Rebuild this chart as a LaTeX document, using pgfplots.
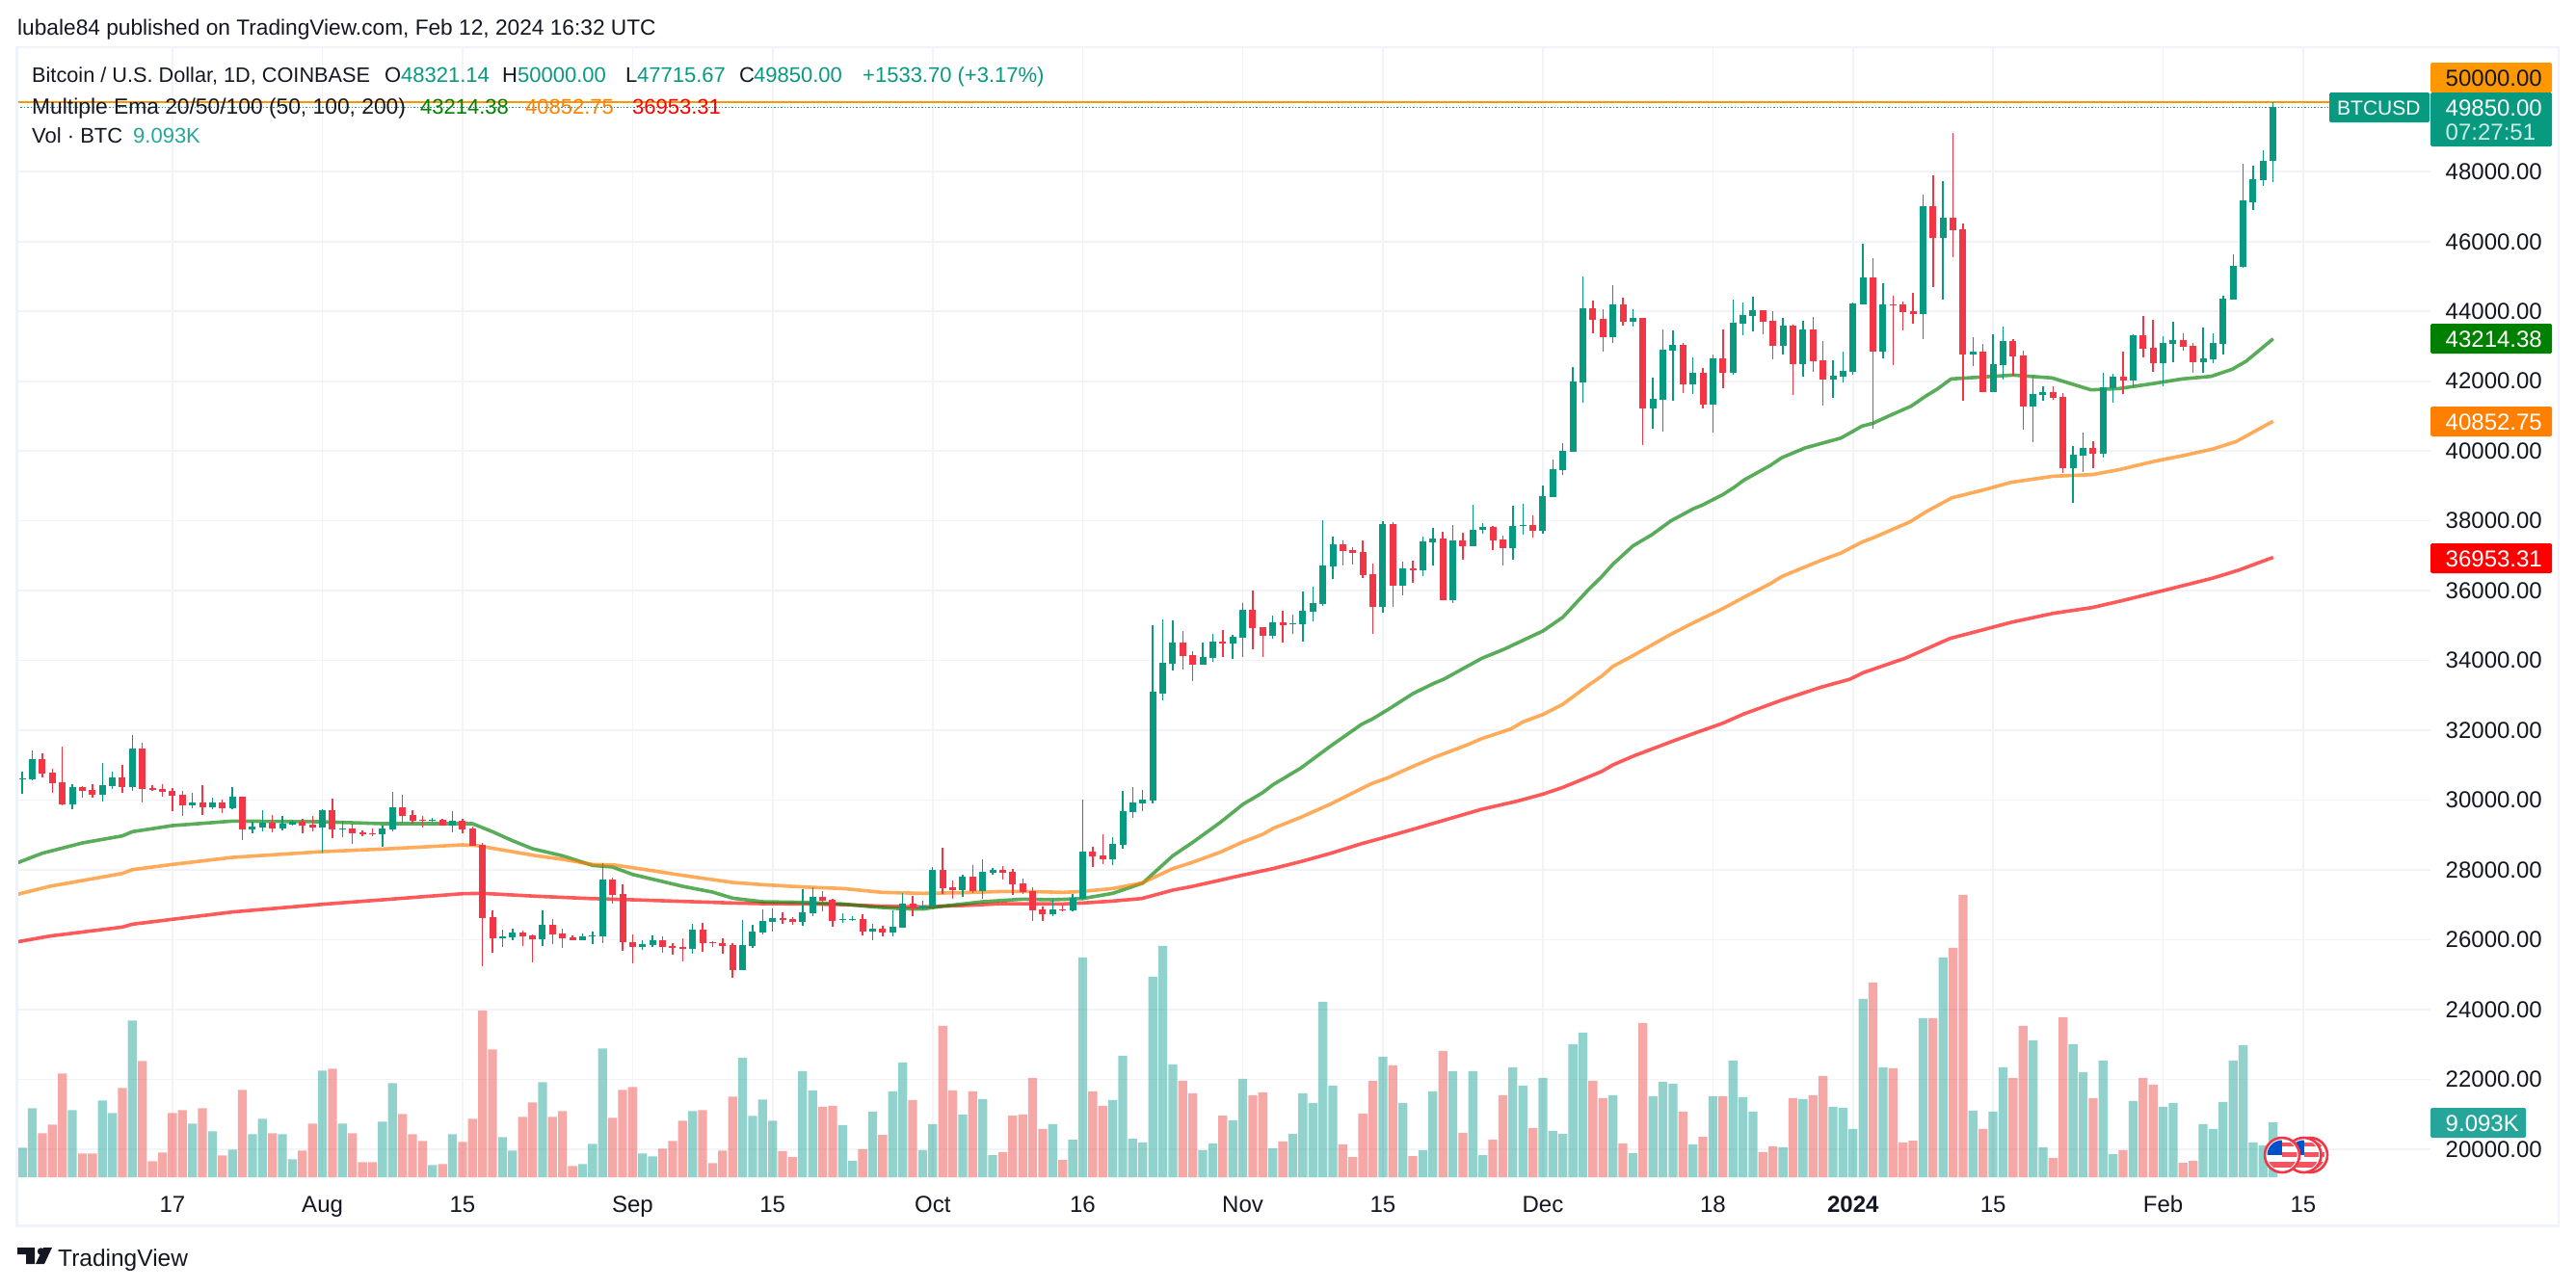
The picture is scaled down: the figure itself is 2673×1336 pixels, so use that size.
\documentclass[border=0pt]{standalone}
\usepackage{fontspec}
\setmainfont{Liberation Sans}
\usepackage{pgfplots}
\usepackage{pgfplotstable}
\pgfplotsset{compat=1.18}
\definecolor{ink}{HTML}{131722}
\definecolor{upc}{HTML}{089981}
\definecolor{downc}{HTML}{F23645}
\definecolor{volup}{HTML}{26A69A}
\definecolor{voldown}{HTML}{EF5350}
\definecolor{gridc}{HTML}{F2F3F6}
\definecolor{framec}{HTML}{F0F3FA}
\definecolor{emag}{HTML}{008000}
\definecolor{emao}{HTML}{FF7F00}
\definecolor{emar}{HTML}{FF0000}
\definecolor{hl}{HTML}{FF9800}
\pgfplotstableread{
i o h l c v
0 30602 30813 30179 30620 4.89
1 30593 31421 30565 31172 11.44
5 29875 30455 29737 30372 11.12
8 30151 31062 29958 30427 12.71
9 30399 30813 30317 30648 10.64
11 30372 31862 30261 31476 25.96
17 29847 30206 29765 29930 8.88
19 29792 30068 29737 29930 7.61
21 29765 30372 29737 30096 4.58
23 29157 29378 29047 29240 7.13
24 29213 29709 29102 29351 9.68
26 29185 29544 29130 29323 7.13
27 29295 29433 29268 29378 2.98
30 29213 29737 28495 29709 17.66
32 29157 29406 28937 29185 8.88
36 29019 29268 28661 29185 9.20
37 29157 30234 29102 29792 15.59
41 29406 29489 29378 29433 2.02
43 29268 29682 29075 29406 7.13
48 26039 26287 25790 26094 6.65
49 26066 26315 25983 26204 4.42
52 26011 26839 25818 26425 15.75
56 25983 26177 25983 26094 2.18
57 26094 26232 25873 26112 5.53
58 26094 28191 25901 27722 21.33
62 25790 25983 25707 25873 3.94
63 25845 26121 25790 25983 3.46
67 25735 26453 25597 26287 10.96
72 25128 26563 25128 25845 19.74
73 25818 26425 25763 26232 10.16
74 26204 26867 26149 26535 12.87
75 26508 26894 26232 26618 9.36
78 26508 27446 26397 26784 17.56
79 26756 27501 26673 27225 14.36
82 26563 26756 26480 26591 8.62
83 26572 26673 26535 26600 2.71
85 26232 26453 25983 26315 10.85
87 26204 26839 26094 26370 14.20
88 26342 27336 26342 27032 18.99
90 26894 27115 26867 26977 4.47
91 26949 28081 26922 27998 8.78
94 27419 27860 27225 27805 10.37
96 27391 28302 27170 27943 12.93
97 27915 28053 27860 27998 3.67
103 26729 27143 26673 26867 8.78
105 26839 27308 26811 27198 6.22
106 27170 30013 27143 28523 36.39
109 28302 28937 28136 28743 12.77
110 28716 30261 28605 29682 20.11
111 29654 30372 29489 29930 6.38
112 29903 30289 29682 30013 5.75
113 29985 35009 29903 33104 33.20
114 33049 35174 32856 33932 38.30
115 33905 35147 33711 34512 18.67
118 33877 34512 33877 34098 4.47
119 34070 34760 33960 34539 5.59
121 34484 34733 34043 34677 9.42
122 34650 35643 34098 35450 16.28
125 34705 35285 34622 35091 4.79
127 35036 35312 34760 35064 7.18
128 35036 35975 34539 35423 13.89
129 35395 36113 35119 35643 12.29
130 35616 38017 35561 36720 29.05
131 36692 37548 36333 37327 15.16
136 35533 37989 35367 37907 19.95
138 36140 36830 35864 36637 12.29
140 36582 37548 36416 37410 4.47
141 37382 37796 36720 37493 14.20
143 35726 37879 35643 37437 17.56
145 37272 38459 37272 37741 17.56
146 37741 37934 37631 37824 3.67
149 37217 38431 36885 37851 18.19
150 37851 38486 37603 37879 15.16
152 37713 39011 37631 38707 16.44
153 38679 39756 38680 39480 7.66
154 39452 40225 39314 40004 7.18
155 39977 42405 39977 41991 22.02
156 41964 45000 41384 44089 23.94
159 43261 44751 43095 44199 13.57
161 43703 44061 43565 43813 3.99
163 41219 42102 40639 41495 13.41
164 41467 43482 40556 42902 15.80
165 42875 43454 41439 43040 15.48
167 41909 42681 41633 42240 5.43
169 41329 42764 40529 42654 13.41
171 42240 44337 42185 43675 19.31
172 43647 44255 43316 43896 13.25
173 43868 44420 43427 44034 10.85
176 43013 43813 42764 43592 4.95
178 42488 43730 42129 43482 12.93
181 42047 42599 41522 42157 11.65
182 42129 42847 41964 42295 11.49
183 42267 44255 42185 44227 7.98
184 44199 45938 44199 44972 29.53
186 42847 44807 42654 44199 18.19
190 43923 47346 43206 47015 26.33
192 46104 47732 44337 46683 36.39
195 42764 43261 42433 42847 11.01
197 41688 43344 41688 42488 10.85
198 42461 43565 42047 43151 18.19
201 41274 42157 40253 41633 22.66
202 41605 41853 41439 41688 4.95
205 39507 40142 38514 39894 22.02
206 39866 40529 39397 40087 17.40
208 39921 42240 39811 41826 19.31
209 41798 42212 41384 42129 3.83
211 42019 43344 41826 43316 12.61
214 42516 43289 41853 43095 11.65
215 43068 43703 42543 43178 12.29
218 42543 43537 42240 42654 8.78
219 42626 43371 42516 43095 7.98
220 43068 44448 42764 44365 12.45
221 44337 45635 44337 45303 19.31
222 45276 48229 45248 47180 21.87
223 47125 48174 46904 47787 5.75
224 47760 48615 47594 48321 5.27
225 48321.14 50000 47715.67 49850 9.093
}\upt
\pgfplotstableread{
i o h l c v
2 31172 31338 30648 30758 7.29
3 30786 30896 30206 30482 8.72
4 30510 31531 29847 29875 17.18
6 30372 30399 30068 30261 3.94
7 30289 30455 30068 30151 3.94
10 30648 31007 30206 30372 14.79
12 31476 31641 29930 30317 19.26
13 30344 30427 30261 30289 2.66
14 30317 30455 30096 30234 4.10
15 30261 30344 29682 30123 10.64
16 30151 30261 29544 29847 11.12
18 29930 30427 29571 29792 11.44
20 29930 30013 29627 29765 3.62
22 30096 30096 28854 29157 14.47
25 29351 29571 29075 29185 7.29
28 29378 29461 29047 29268 4.42
29 29295 29544 29102 29213 8.88
31 29709 30041 28909 29157 17.98
33 29185 29323 28743 29047 7.29
34 29075 29130 28964 29019 2.50
35 29047 29185 28964 29019 2.50
38 29792 30151 29351 29544 10.48
39 29571 29709 29323 29406 7.13
40 29433 29544 29213 29406 6.01
42 29433 29461 29268 29268 2.18
44 29406 29461 29047 29157 5.85
45 29185 29240 28688 28688 9.68
46 28716 28771 25238 26618 27.56
47 26646 26839 25625 26039 21.17
50 26204 26259 25818 26094 10.00
51 26121 26149 25349 26011 12.40
53 26425 26591 25873 26149 10.00
54 26177 26315 25763 26039 10.96
55 26066 26121 25983 25983 1.86
59 27722 27777 27032 27281 9.84
60 27308 27584 25680 25928 14.47
61 25928 26149 25321 25790 14.95
64 25983 26094 25625 25790 4.73
65 25818 25901 25569 25763 6.01
66 25790 26039 25376 25735 9.36
68 26287 26480 25652 25901 11.12
69 25928 25956 25790 25901 2.34
70 25901 26039 25597 25818 4.42
71 25845 25901 24907 25128 13.35
76 26618 26784 26453 26563 4.31
77 26591 26646 26425 26508 3.35
80 27225 27391 26811 27115 11.65
81 27143 27170 26370 26535 11.81
84 26591 26729 26121 26232 4.63
86 26315 26397 26094 26204 7.02
89 27032 27253 26673 26894 12.77
92 27998 28633 27308 27474 25.06
93 27501 27695 27170 27419 14.36
95 27805 28136 27336 27391 14.20
98 27998 28109 27722 27915 4.15
99 27943 28026 27281 27584 10.21
100 27612 27750 27308 27363 10.37
101 27391 27501 26535 26839 16.44
102 26867 26949 26535 26729 7.98
104 26867 27005 26811 26839 2.87
107 28523 28661 28081 28385 14.20
108 28412 29019 28164 28302 11.81
116 34512 34843 33739 34125 15.96
117 34153 34263 33408 33877 13.89
120 34539 34871 34098 34484 10.21
123 35450 36002 34319 34926 13.57
124 34953 34953 34098 34705 14.04
126 35091 35423 34512 35009 5.91
132 37327 37437 36720 37134 5.43
133 37161 37244 36747 37079 3.35
134 37106 37437 36361 36444 10.53
135 36471 36775 34760 35533 15.96
137 37907 37962 35533 36140 18.51
139 36637 36858 36223 36582 3.51
142 37493 37686 35726 35726 20.91
144 37437 37658 36885 37272 7.34
147 37824 37851 37161 37437 6.22
148 37465 37575 36720 37217 13.57
151 37879 38155 37520 37713 8.14
157 44089 44310 43371 43758 15.96
158 43785 44061 42847 43261 13.09
160 44199 44393 43592 43703 5.59
162 43813 43813 40170 41219 25.54
166 43040 43096 41660 41909 10.85
168 42240 42378 41219 41329 6.70
170 42654 43482 41798 42240 13.41
174 44034 44034 43344 43703 4.15
175 43730 44006 42626 43013 5.11
177 43592 43620 41605 42488 13.09
179 43482 43841 42267 42571 13.57
180 42599 43151 41301 42047 16.76
185 44972 45524 40639 42847 32.24
187 44199 44448 42461 44172 18.03
188 44199 44282 43454 43979 5.75
189 44006 44531 43647 43923 6.06
191 47015 47898 44696 46104 26.33
193 46683 49112 45552 46325 37.98
194 46352 46518 41439 42764 46.76
196 42847 43068 41688 41688 7.98
199 43151 43206 42157 42709 16.44
200 42737 42875 40611 41274 25.06
203 41688 41853 41467 41522 3.19
204 41550 41660 39369 39507 26.49
207 40087 40280 39507 39921 13.09
210 42129 42847 41633 42019 4.47
212 43316 43868 42681 42930 16.44
213 42957 43758 42267 42516 15.32
216 43178 43371 42875 42985 2.39
217 43013 43095 42240 42543 2.71
}\downt
\newcommand{\flag}[1]{%
  \begin{scope}
    \fill[white] (#1,1199) circle (19);
    \begin{scope}
      \clip (#1,1199) circle (15.5);
      \fill[downc!85!white] (#1-16,1206) rectangle (#1+16,1212);
      \fill[downc!85!white] (#1,1186) rectangle (#1+16,1190);
      \fill[downc!85!white] (#1,1196) rectangle (#1+16,1201);
      \fill[blue!60!cyan!80!black] (#1-16,1183) rectangle (#1,1199);
    \end{scope}
    \draw[downc,line width=2.6pt] (#1,1199) circle (18);
  \end{scope}}
\newcommand{\plf}{\fontsize{24}{28}\selectfont}
\newcommand{\lgd}{\fontsize{22}{26}\selectfont}
\pgfplotsset{
  panel/.style={
    at={(18pt,-1222pt)}, anchor=south west, scale only axis,
    width=2504pt, height=1172pt,
    xmin=-0.5, xmax=240.73,
  },
  wick/.style={draw=none, mark=none, forget plot,
    error bars/.cd, y dir=both, y explicit, error mark=none,
    error bar style={draw=#1, line width=1.4pt}},
}
\begin{document}
\begin{tikzpicture}[x=1pt,y=-1pt]
\fill[white] (0,0) rectangle (2673,1336);
% grid, ticks and labels
\begin{axis}[panel,
  ymin=19194, ymax=51541,
  axis line style={draw=none},
  ytick={20000,22000,...,48000},
  scaled y ticks=false,
  yticklabel pos=right,
  major tick length=0pt,
  xtick={15,30,44,61,75,91,106,122,136,152,169,183,197,214,228},
  xticklabels={17,Aug,15,Sep,15,Oct,16,Nov,15,Dec,18,\textbf{2024},15,Feb,15},
  xmajorgrids, ymajorgrids,
  major grid style={draw=gridc, line width=1.7pt},
  tick label style={font=\plf, text=ink},
  xticklabel style={anchor=base, yshift=-36.5pt},
  yticklabel style={anchor=west, xshift=15.5pt, inner sep=0pt},
  /pgf/number format/fixed,
  /pgf/number format/fixed zerofill,
  /pgf/number format/precision=2,
  /pgf/number format/1000 sep={},
  /pgf/number format/assume math mode=true,
]
\end{axis}
% volume
\begin{axis}[panel, hide axis, ymin=0, ymax=186.93]
\addplot[ybar, bar width=9.3pt, bar shift=0pt, draw=none, fill=volup, fill opacity=0.5, forget plot] table[x=i,y=v] {\upt};
\addplot[ybar, bar width=9.3pt, bar shift=0pt, draw=none, fill=voldown, fill opacity=0.5, forget plot] table[x=i,y=v] {\downt};
\end{axis}
% price
\begin{axis}[panel, hide axis, ymin=19194, ymax=51541]
\addplot[emar, draw opacity=0.65, line width=3.6pt, line join=round, forget plot] coordinates {(-0.5,25937)(2.75,26103)(10,26361)(11,26443)(21,26793)(30,27014)(36,27143)(44,27317)(46,27327)(51.4,27244)(56.7,27179)(61,27143)(66,27097)(71,27051)(74,27032)(78,27023)(82,27005)(86,26959)(90,26940)(94,26977)(98,27032)(104,27023)(106,27051)(109,27106)(111.9,27179)(115,27419)(117,27529)(122,27851)(125,28035)(127.8,28237)(130.7,28467)(133.9,28753)(135.9,28909)(138.4,29111)(145.9,29737)(149.4,29967)(152,30169)(154,30363)(156.5,30657)(157.9,30823)(159,31007)(161,31255)(164.8,31669)(167,31899)(170,32203)(172.1,32469)(175.9,32865)(179.8,33233)(182.7,33463)(184,33647)(186.6,33905)(188.2,34061)(192.7,34631)(195.9,34871)(198.8,35091)(203,35349)(206.9,35515)(209.7,35699)(213.9,35993)(219,36361)(221.6,36591)(225,36953)};
\addplot[emag, draw opacity=0.65, line width=3.6pt, line join=round, forget plot] coordinates {(-0.5,28201)(2,28477)(6,28771)(10,28973)(11,29093)(15,29268)(21,29397)(30,29378)(36,29323)(45,29323)(47,29093)(49,28835)(51,28605)(54,28403)(57,28127)(59,28081)(61,27869)(66,27529)(69,27363)(71,27189)(74,27087)(78,27069)(82,27023)(85,26940)(88,26885)(90,26876)(92,26959)(96,27087)(100,27161)(103,27143)(106,27179)(109,27327)(112,27621)(115,28403)(117,28789)(119.8,29369)(122,29875)(124,30215)(125,30436)(127.8,30915)(130.7,31531)(133.9,32175)(134.9,32313)(136.5,32589)(139,33049)(141.1,33343)(142.1,33463)(145.9,34061)(148.1,34319)(152,34843)(154,35239)(156.5,36011)(157.9,36407)(159,36757)(161,37281)(162.9,37603)(164.8,37999)(167,38339)(168,38459)(170,38753)(171.1,38955)(172.1,39167)(174.7,39581)(175.9,39811)(178.2,40087)(181.8,40372)(183.9,40713)(185,40795)(186.6,41007)(188.8,41283)(190.2,41559)(191.5,41789)(192.8,42065)(197,42139)(199,42176)(202.9,42093)(206.8,41752)(209.6,41789)(213.1,41936)(215.9,42065)(218.8,42139)(220.9,42341)(222.3,42571)(225,43214)};
\addplot[emao, draw opacity=0.65, line width=3.6pt, line join=round, forget plot] coordinates {(-0.5,27299)(2.75,27529)(10,27897)(11,28007)(15,28155)(21,28357)(30,28523)(36,28596)(44,28716)(45.4,28697)(51.4,28403)(54,28302)(57,28155)(59,28145)(61,28063)(66,27842)(71,27639)(74,27575)(78,27510)(82,27465)(86,27354)(90,27327)(94,27345)(98,27382)(100.7,27382)(104,27354)(106,27382)(109,27465)(111.9,27621)(115,28035)(117,28219)(119.8,28513)(122,28799)(124,29019)(125,29185)(127.8,29507)(130.7,29875)(133.9,30335)(134.9,30473)(136.5,30639)(138.4,30887)(141,31209)(144.4,31577)(145.9,31761)(148.8,32037)(150,32239)(152,32451)(154,32745)(156.5,33279)(157.9,33555)(159,33831)(161,34135)(164.8,34751)(167,35073)(170,35487)(172.1,35809)(174.7,36195)(175.9,36407)(179.8,36867)(181.8,37079)(183.9,37391)(185,37511)(188.7,37971)(190.4,38275)(192.9,38661)(195.9,38873)(198.8,39103)(203,39277)(206.9,39323)(209.7,39471)(212.9,39691)(216.1,39875)(219,40059)(221.3,40271)(225,40853)};
% last-price dotted line and the orange level
\addplot[upc, line width=1.2pt, dash pattern=on 1.4pt off 2pt, forget plot] coordinates {(-0.5,49850)(230.6,49850)};
\addplot[hl, line width=2.6pt, forget plot] coordinates {(-0.5,50000)(230.6,50000)};
% wicks
\addplot[wick=upc] table[x=i,y=c,y error plus expr=\thisrow{h}-\thisrow{c},y error minus expr=\thisrow{c}-\thisrow{l}] {\upt};
\addplot[wick=downc] table[x=i,y=c,y error plus expr=\thisrow{h}-\thisrow{c},y error minus expr=\thisrow{c}-\thisrow{l}] {\downt};
% bodies
\addplot[draw=none, mark=none, forget plot, error bars/.cd, y dir=minus, y explicit, error mark=none, error bar style={draw=upc, line width=7pt}] table[x=i,y=c,y error minus expr=\thisrow{c}-\thisrow{o}] {\upt};
\addplot[draw=none, mark=none, forget plot, error bars/.cd, y dir=plus, y explicit, error mark=none, error bar style={draw=downc, line width=7pt}] table[x=i,y=c,y error plus expr=\thisrow{o}-\thisrow{c}] {\downt};
\end{axis}
% frame
\draw[framec, line width=2.6pt] (17.5,49) -- (2655,49) -- (2655,1272.5) -- (17.5,1272.5) -- cycle;
% flags
\flag{2397}\flag{2390.5}\flag{2368}
% price-scale boxes
\fill[hl, rounded corners=1.5pt] (2522,65) rectangle (2648,96);
\fill[upc, rounded corners=1.5pt] (2522,96) rectangle (2648,152);
\fill[upc, rounded corners=1.5pt] (2417,96) rectangle (2521,127);
\fill[emag, rounded corners=1.5pt] (2522,336) rectangle (2648,367);
\fill[emao, rounded corners=1.5pt] (2522,422) rectangle (2648,453);
\fill[emar, rounded corners=1.5pt] (2522,564) rectangle (2648,595);
\fill[volup, rounded corners=1.5pt] (2522,1150) rectangle (2621,1181);
\tikzset{every node/.style={inner sep=0pt, anchor=base west}}
\node[text=ink,font=\plf] at (2537.5,89) {50000.00};
\node[text=white,font=\plf] at (2537.5,120) {49850.00};
\node[text=white,opacity=0.8,font=\plf] at (2537.5,145.5) {07:27:51};
\node[text=white,font=\fontsize{21}{25}\selectfont] at (2425,119.5) {BTCUSD};
\node[text=white,font=\plf] at (2537.5,360) {43214.38};
\node[text=white,font=\plf] at (2537.5,446) {40852.75};
\node[text=white,font=\plf] at (2537.5,588) {36953.31};
\node[text=white,font=\plf] at (2537.5,1174) {9.093K};
% header and legend
\node[text=ink,font=\fontsize{22.7}{27}\selectfont] at (18,36) {lubale84 published on TradingView.com, Feb 12, 2024 16:32 UTC};
\node[text=ink,font=\fontsize{21.7}{26}\selectfont] at (33,85) {Bitcoin / U.S. Dollar, 1D, COINBASE};
\node[text=ink,font=\lgd] at (399,85) {O};
\node[text=upc,font=\lgd] at (416,85) {48321.14};
\node[text=ink,font=\lgd] at (521,85) {H};
\node[text=upc,font=\lgd] at (537,85) {50000.00};
\node[text=ink,font=\lgd] at (649,85) {L};
\node[text=upc,font=\lgd] at (661,85) {47715.67};
\node[text=ink,font=\lgd] at (767,85) {C};
\node[text=upc,font=\lgd] at (782,85) {49850.00};
\node[text=upc,font=\lgd] at (895,85) {+1533.70 (+3.17\%)};
\node[text=ink,font=\fontsize{22.8}{27}\selectfont] at (33,118) {Multiple Ema 20/50/100 (50, 100, 200)};
\node[text=emag,font=\lgd] at (436,118) {43214.38};
\node[text=emao,font=\lgd] at (545,118) {40852.75};
\node[text=emar,font=\lgd] at (656,118) {36953.31};
\node[text=ink,font=\lgd] at (33,148) {Vol · BTC};
\node[text=volup,font=\lgd] at (138,148) {9.093K};
% TradingView mark
\fill[ink] (18,1295) -- (36,1295) -- (36,1312) -- (27,1312) -- (27,1302) -- (18,1302) -- cycle;
\fill[ink] (42.5,1299) circle (3.7);
\fill[ink] (45,1295) -- (54,1295) -- (46,1312) -- (37,1312) -- cycle;
\node[text=ink,font=\fontsize{24.5}{30}\selectfont] at (60,1314) {TradingView};
\end{tikzpicture}
\end{document}
